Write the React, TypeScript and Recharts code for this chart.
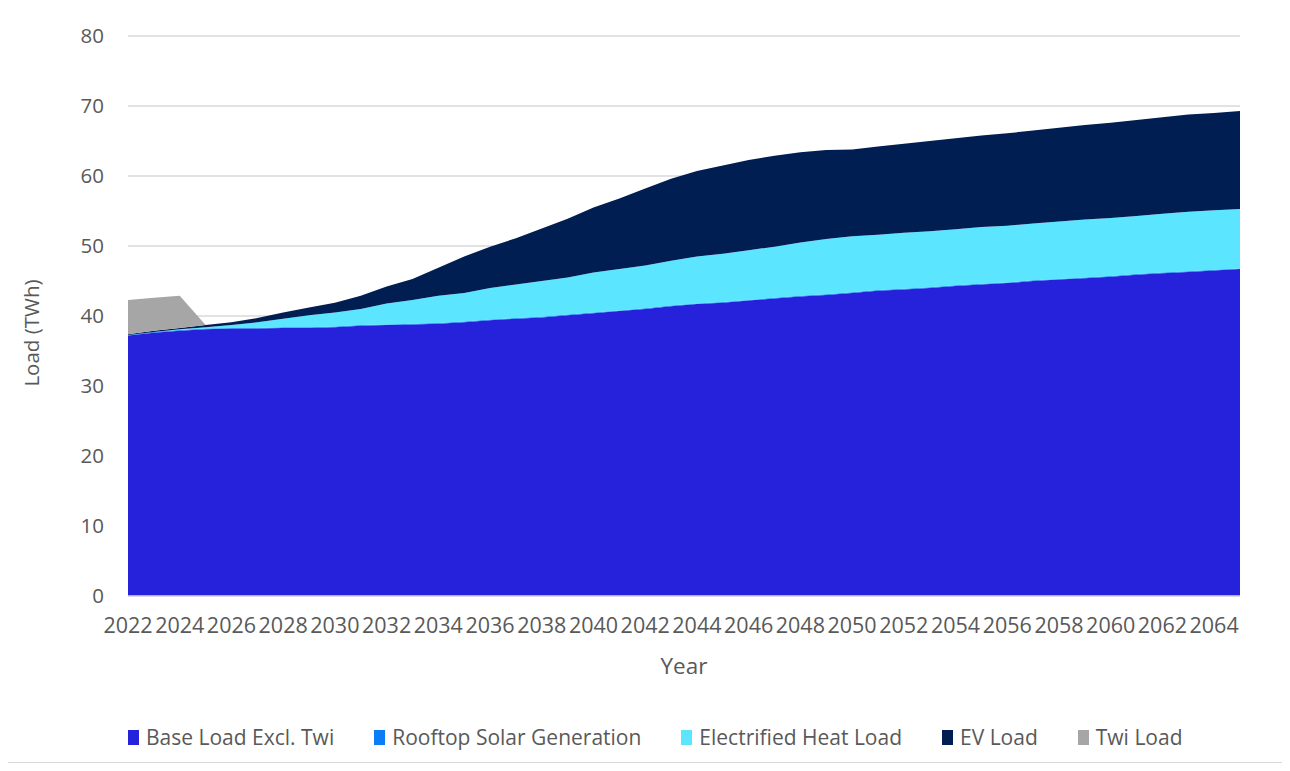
import React from 'react';
import { AreaChart, Area, XAxis, YAxis, CartesianGrid, Legend } from 'recharts';

const FONT = "'Open Sans', 'Noto Sans', sans-serif";
const TEXT = '#595959';
const GRID = '#D9D9D9';

const years = [
  2022, 2023, 2024, 2025, 2026, 2027, 2028, 2029, 2030, 2031, 2032,
  2033, 2034, 2035, 2036, 2037, 2038, 2039, 2040, 2041, 2042, 2043,
  2044, 2045, 2046, 2047, 2048, 2049, 2050, 2051, 2052, 2053, 2054,
  2055, 2056, 2057, 2058, 2059, 2060, 2061, 2062, 2063, 2064, 2065,
];

// TWh per year
const baseLoad = [
  37.2, 37.6, 37.9, 38.1, 38.2, 38.2, 38.3, 38.3, 38.4, 38.6, 38.7,
  38.8, 38.9, 39.1, 39.4, 39.6, 39.8, 40.1, 40.4, 40.7, 41.0, 41.4,
  41.7, 41.9, 42.2, 42.5, 42.8, 43.0, 43.3, 43.6, 43.8, 44.0, 44.3,
  44.5, 44.7, 45.0, 45.2, 45.4, 45.6, 45.9, 46.1, 46.3, 46.5, 46.7,
];
const rooftopSolar = [
  0.1, 0.1, 0.1, 0.1, 0.1, 0.1, 0.1, 0.1, 0.1, 0.1, 0.1,
  0.1, 0.1, 0.1, 0.1, 0.1, 0.1, 0.1, 0.1, 0.1, 0.1, 0.1,
  0.1, 0.1, 0.1, 0.1, 0.1, 0.1, 0.1, 0.1, 0.1, 0.1, 0.1,
  0.1, 0.1, 0.1, 0.1, 0.1, 0.1, 0.1, 0.1, 0.1, 0.1, 0.1,
];
const heatLoad = [
  0.0, 0.0, 0.1, 0.2, 0.4, 0.8, 1.2, 1.7, 2.0, 2.3, 3.0,
  3.4, 3.9, 4.1, 4.5, 4.8, 5.1, 5.3, 5.7, 5.9, 6.1, 6.4,
  6.7, 6.9, 7.1, 7.3, 7.6, 7.9, 8.0, 7.9, 8.0, 8.0, 8.0,
  8.1, 8.1, 8.1, 8.2, 8.3, 8.3, 8.3, 8.4, 8.5, 8.5, 8.5,
];
const evLoad = [
  0.1, 0.2, 0.2, 0.3, 0.4, 0.6, 0.9, 1.1, 1.4, 1.9, 2.4,
  3.0, 4.0, 5.2, 5.9, 6.6, 7.5, 8.4, 9.3, 10.1, 11.0, 11.7,
  12.2, 12.6, 12.9, 13.0, 12.9, 12.7, 12.4, 12.6, 12.7, 12.9, 13.0,
  13.1, 13.2, 13.3, 13.4, 13.5, 13.6, 13.7, 13.8, 13.9, 13.9, 14.0,
];
const twiLoad = [
  4.9, 4.7, 4.6, 0, 0, 0, 0, 0, 0, 0, 0,
  0, 0, 0, 0, 0, 0, 0, 0, 0, 0, 0,
  0, 0, 0, 0, 0, 0, 0, 0, 0, 0, 0,
  0, 0, 0, 0, 0, 0, 0, 0, 0, 0, 0,
];

const yTicks = [0, 10, 20, 30, 40, 50, 60, 70, 80];

const series = [
  { key: 'base', name: 'Base Load Excl. Twi', color: '#2621DB', values: baseLoad },
  { key: 'solar', name: 'Rooftop Solar Generation', color: '#0B7DF9', values: rooftopSolar },
  { key: 'heat', name: 'Electrified Heat Load', color: '#5BE5FF', values: heatLoad },
  { key: 'ev', name: 'EV Load', color: '#001E52', values: evLoad },
  { key: 'twi', name: 'Twi Load', color: '#A6A6A6', values: twiLoad },
];

const data = years.map((year, i) => {
  const row: Record<string, number> = { year };
  series.forEach((s) => {
    row[s.key] = s.values[i];
  });
  return row;
});

const W = 1276;
const H = 756;

const LegendContent = () => (
  <div
    style={{
      display: 'flex',
      alignItems: 'center',
      height: 36,
      paddingLeft: 121,
      gap: 40,
      fontFamily: FONT,
      fontSize: 21,
      color: TEXT,
      whiteSpace: 'nowrap',
    }}
  >
    {series.map((s) => (
      <div key={s.key} style={{ display: 'flex', alignItems: 'center' }}>
        <span
          style={{
            display: 'inline-block',
            width: 11,
            height: 15,
            background: s.color,
            marginRight: 7,
          }}
        />
        <span>{s.name}</span>
      </div>
    ))}
  </div>
);

const YTitle = (props: any) => {
  const vb = props.viewBox || {};
  const cx = (vb.x ?? 0) + 24;
  const cy = (vb.y ?? 0) + vb.height / 2 + 17;
  return (
    <text
      x={cx}
      y={cy}
      transform={`rotate(-90, ${cx}, ${cy})`}
      textAnchor="middle"
      dominantBaseline="central"
      fill={TEXT}
      fontFamily={FONT}
      fontSize={20.5}
    >
      Load (TWh)
    </text>
  );
};

const XTitle = (props: any) => {
  const vb = props.viewBox || {};
  const cx = (vb.x ?? 0) + vb.width / 2;
  const cy = (vb.y ?? 0) + 69;
  return (
    <text
      x={cx}
      y={cy}
      textAnchor="middle"
      dominantBaseline="central"
      fill={TEXT}
      fontFamily={FONT}
      fontSize={22.5}
    >
      Year
    </text>
  );
};

export default function App() {
  return (
    <div
      style={{
        position: 'relative',
        width: W,
        height: H,
        margin: '-1px 0 0 -1px',
        outline: `1.5px solid ${GRID}`,
        outlineOffset: -1,
        background: '#fff',
      }}
    >
      <AreaChart
        width={W}
        height={H}
        data={data}
        margin={{ top: 29, right: 43, bottom: 8, left: 0 }}
      >
        <CartesianGrid vertical={false} stroke={GRID} strokeWidth={1.5} />
        <XAxis
          dataKey="year"
          interval={1}
          height={123}
          tickLine={false}
          tickSize={0}
          tickMargin={22}
          axisLine={{ stroke: GRID, strokeWidth: 1.5 }}
          tick={{ fill: TEXT, fontSize: 21.5, fontFamily: FONT }}
          label={<XTitle />}
        />
        <YAxis
          width={121}
          domain={[0, 80]}
          ticks={yTicks}
          tickLine={false}
          axisLine={false}
          tickSize={0}
          tickMargin={24}
          tick={{ fill: TEXT, fontSize: 20.5, fontFamily: FONT }}
          label={<YTitle />}
        />
        {series.map((s) => (
          <Area
            key={s.key}
            type="linear"
            dataKey={s.key}
            name={s.name}
            stackId="load"
            fill={s.color}
            fillOpacity={1}
            stroke="none"
            isAnimationActive={false}
            activeDot={false}
          />
        ))}
        <Legend
          verticalAlign="bottom"
          content={<LegendContent />}
          wrapperStyle={{ left: 0, width: W }}
        />
      </AreaChart>
    </div>
  );
}
